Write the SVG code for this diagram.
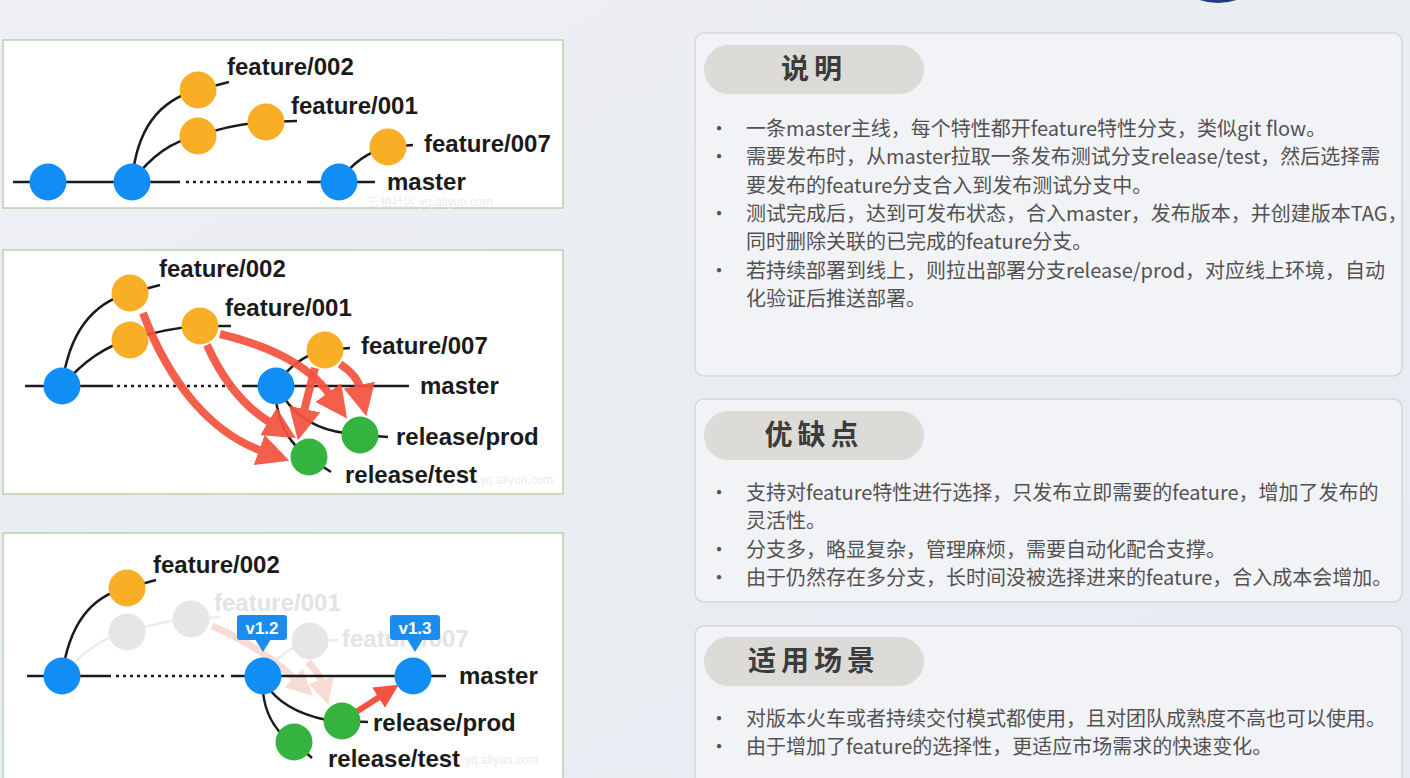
<svg xmlns="http://www.w3.org/2000/svg" width="1410" height="778" viewBox="0 0 1410 778">
<defs>
<linearGradient id="bg" x1="0" y1="0" x2="1" y2="1">
<stop offset="0" stop-color="#eef0f4"/>
<stop offset="1" stop-color="#e7eaf0"/>
</linearGradient>
<marker id="ah" markerUnits="userSpaceOnUse" markerWidth="32" markerHeight="32" refX="3" refY="16" orient="auto"><path d="M0,0 L32,16 L0,32 z" fill="#f4533f"/></marker>
<marker id="ah2" markerUnits="userSpaceOnUse" markerWidth="24" markerHeight="24" refX="3" refY="12" orient="auto"><path d="M0,0 L24,12 L0,24 z" fill="#f4533f"/></marker>
<marker id="ah3" markerUnits="userSpaceOnUse" markerWidth="26" markerHeight="26" refX="3" refY="13" orient="auto"><path d="M0,0 L26,13 L0,26 z" fill="#f9dbd5"/></marker>
<style>
.panel{fill:#ffffff;stroke:#a9c99a;stroke-width:1.2}
.blue{fill:#118ef5}
.orange{fill:#f8ae25}
.green{fill:#34b43f}
.gray{fill:#e6e6e6}
.ln{stroke:#1b1b1b;stroke-width:2.5;fill:none}
.fl{stroke:#ececec;stroke-width:2.5;fill:none}
.dot{stroke:#1b1b1b;stroke-width:2.5;fill:none;stroke-dasharray:3 4}
.lbl{font-family:"Liberation Sans",Arial,sans-serif;font-weight:bold;font-size:24px;fill:#1b1b1b}
.flbl{font-family:"Liberation Sans",Arial,sans-serif;font-weight:bold;font-size:24px;fill:#e3e3e3}
.ra{stroke:#f4533f;stroke-width:8;fill:none;marker-end:url(#ah);opacity:0.93}
.fa{stroke:#f9dbd5;stroke-width:7;fill:none;marker-end:url(#ah3)}
.tag{fill:#1a8cf0}
.tagt{font-family:"Liberation Sans",Arial,sans-serif;font-weight:bold;font-size:17px;fill:#ffffff}
.wm{font-family:"Liberation Sans",Arial,sans-serif;font-size:12px;fill:#ececec}
.box{fill:#f2f3f6;stroke:#d6d8dc;stroke-width:1.5}
.pill{fill:#dcdbd7}
.ttl{font-family:"Noto Sans CJK SC",sans-serif;font-weight:bold;font-size:28px;fill:#3c3c3c;letter-spacing:5px}
.tx{font-family:"Noto Sans CJK SC",sans-serif;font-size:20px;fill:#525252}
</style>
</defs>
<rect x="0" y="0" width="1410" height="778" fill="url(#bg)"/>
<circle cx="1218" cy="-55" r="58" fill="#1b3b82"/>

<!-- Panel 1 -->
<g id="panel1">
<rect class="panel" x="3" y="40" width="560" height="168"/>
<text class="wm" x="368" y="206">云栖社区 yq.aliyun.com</text>
<g id="p1-connectors">
<path class="ln" d="M13,182 L180,182"/>
<path class="dot" d="M186,182 L302,182"/>
<path class="ln" d="M307,182 L375,182"/>
<path class="ln" d="M132,182 Q 138,105 198,90"/>
<path class="ln" d="M132,182 Q 160,143 198,136"/>
<path class="ln" d="M198,136 Q 232,124 266,122"/>
<path class="ln" d="M339,182 Q 358,154 388,147"/>
<path class="ln" d="M198,90 L229,82"/>
<path class="ln" d="M266,122 L297,121"/>
<path class="ln" d="M388,147 L413,145"/>
</g>
<g id="p1-m1"><circle class="blue" cx="48" cy="182" r="18.5"/></g>
<g id="p1-m2"><circle class="blue" cx="132" cy="182" r="18.5"/></g>
<g id="p1-m3"><circle class="blue" cx="339" cy="182" r="18.5"/><text class="lbl" x="387" y="190">master</text></g>
<g id="p1-f002"><circle class="orange" cx="198" cy="90" r="18.5"/><text class="lbl" x="227" y="75">feature/002</text></g>
<g id="p1-f001a"><circle class="orange" cx="198" cy="136" r="18.5"/></g>
<g id="p1-f001b"><circle class="orange" cx="266" cy="122" r="18.5"/><text class="lbl" x="291" y="114">feature/001</text></g>
<g id="p1-f007"><circle class="orange" cx="388" cy="147" r="18.5"/><text class="lbl" x="424" y="152">feature/007</text></g>
</g>

<!-- Panel 2 -->
<g id="panel2">
<rect class="panel" x="3" y="250" width="560" height="244"/>
<text class="wm" x="480" y="484">yq.aliyun.com</text>
<g id="p2-connectors">
<path class="ln" d="M25,386 L113,386"/>
<path class="dot" d="M117,386 L236,386"/>
<path class="ln" d="M242,386 L409,386"/>
<path class="ln" d="M62,386 Q 72,308 130,293"/>
<path class="ln" d="M62,386 Q 95,348 130,340"/>
<path class="ln" d="M130,340 Q 165,328 200,326"/>
<path class="ln" d="M276,386 Q 294,357 325,350"/>
<path class="ln" d="M284,398 Q 305,428 345,433"/>
<path class="ln" d="M276,400 Q 280,432 300,450"/>
<path class="ln" d="M130,293 L160,285"/>
<path class="ln" d="M200,326 L231,326"/>
<path class="ln" d="M325,350 L350,348"/>
<path class="ln" d="M360,435 L388,437"/>
<path class="ln" d="M308,457 L331,472"/>
</g>
<g id="p2-m1"><circle class="blue" cx="62" cy="386" r="18.5"/></g>
<g id="p2-m2"><circle class="blue" cx="276" cy="386" r="18.5"/><text class="lbl" x="420" y="394">master</text></g>
<g id="p2-f002"><circle class="orange" cx="130" cy="293" r="18.5"/><text class="lbl" x="159" y="277">feature/002</text></g>
<g id="p2-f001a"><circle class="orange" cx="130" cy="340" r="18.5"/></g>
<g id="p2-f001b"><circle class="orange" cx="200" cy="326" r="18.5"/><text class="lbl" x="225" y="316">feature/001</text></g>
<g id="p2-f007"><circle class="orange" cx="325" cy="350" r="18.5"/><text class="lbl" x="361" y="354">feature/007</text></g>
<g id="p2-prod"><circle class="green" cx="360" cy="435" r="18.5"/><text class="lbl" x="396" y="445">release/prod</text></g>
<g id="p2-test"><circle class="green" cx="309" cy="457" r="18.5"/><text class="lbl" x="345" y="483">release/test</text></g>
<g id="p2-arrows">
<path class="ra" d="M143,313 C 170,385 212,433 262,451"/>
<path class="ra" d="M207,345 C 225,385 246,408 271,423"/>
<path class="ra" d="M220,334 C 265,345 306,362 330,395"/>
<path class="ra" d="M315,368 C 311,383 307,398 304,412"/>
<path class="ra" d="M340,364 C 352,372 358,379 360,388"/>
</g>
</g>

<!-- Panel 3 -->
<g id="panel3">
<rect class="panel" x="3" y="533" width="560" height="250"/>
<text class="wm" x="465" y="764">yq.aliyun.com</text>
<g id="p3-faded">
<path class="fl" d="M62,676 Q 95,638 127,632"/>
<path class="fl" d="M127,632 Q 160,621 191,619"/>
<path class="fl" d="M191,619 L220,617"/>
<path class="fl" d="M263,676 Q 283,648 310,641"/>
<path class="fl" d="M310,641 L338,640"/>
<path class="fa" d="M212,626 C 245,640 275,660 296,680"/>
<path class="fa" d="M308,662 C 316,670 320,676 322,683"/>
<g id="p3-f001a"><circle class="gray" cx="127" cy="632" r="18.5"/></g>
<g id="p3-f001b"><circle class="gray" cx="191" cy="619" r="18.5"/><text class="flbl" x="214" y="611">feature/001</text></g>
<g id="p3-f007"><circle class="gray" cx="310" cy="641" r="18.5"/><text class="flbl" x="342" y="647">feature/007</text></g>
</g>
<g id="p3-connectors">
<path class="ln" d="M27,676 L111,676"/>
<path class="dot" d="M116,676 L225,676"/>
<path class="ln" d="M231,676 L446,676"/>
<path class="ln" d="M62,676 Q 72,600 127,588"/>
<path class="ln" d="M127,588 L156,580"/>
<path class="ln" d="M270,690 Q 290,715 338,722"/>
<path class="ln" d="M263,692 Q 266,722 288,740"/>
<path class="ln" d="M342,721 L368,722"/>
<path class="ln" d="M294,742 L312,758"/>
<path d="M356,712 L381,696" stroke="#f4533f" stroke-width="6" fill="none" marker-end="url(#ah2)"/>
</g>
<g id="p3-m1"><circle class="blue" cx="62" cy="676" r="18.5"/></g>
<g id="p3-m2"><circle class="blue" cx="263" cy="676" r="18.5"/></g>
<g id="p3-m3"><circle class="blue" cx="413" cy="676" r="18.5"/><text class="lbl" x="459" y="684">master</text></g>
<g id="p3-f002"><circle class="orange" cx="127" cy="588" r="18.5"/><text class="lbl" x="153" y="573">feature/002</text></g>
<g id="p3-prod"><circle class="green" cx="342" cy="721" r="18.5"/><text class="lbl" x="373" y="731">release/prod</text></g>
<g id="p3-test"><circle class="green" cx="294" cy="742" r="18.5"/><text class="lbl" x="328" y="767">release/test</text></g>
<g id="tag-v12"><rect class="tag" x="237" y="615" width="50" height="25" rx="3"/><path class="tag" d="M255,639 L263,652 L271,639 z"/><text class="tagt" x="262" y="634" text-anchor="middle">v1.2</text></g>
<g id="tag-v13"><rect class="tag" x="390" y="615" width="50" height="25" rx="3"/><path class="tag" d="M407,639 L415,652 L423,639 z"/><text class="tagt" x="415" y="634" text-anchor="middle">v1.3</text></g>
</g>

<!-- Right boxes -->
<g id="box-desc">
<rect class="box" x="695" y="33" width="707" height="343" rx="9"/>
<rect class="pill" x="704" y="45" width="220" height="49" rx="24.5"/>
<text class="ttl" x="814" y="79" text-anchor="middle">说明</text>
<g class="tx">
<text x="709" y="136">•</text><text x="746" y="136">一条master主线，每个特性都开feature特性分支，类似git flow。</text>
<text x="709" y="164">•</text><text x="746" y="164">需要发布时，从master拉取一条发布测试分支release/test，然后选择需</text>
<text x="746" y="193">要发布的feature分支合入到发布测试分支中。</text>
<text x="709" y="221">•</text><text x="746" y="221">测试完成后，达到可发布状态，合入master，发布版本，并创建版本TAG，</text>
<text x="746" y="249">同时删除关联的已完成的feature分支。</text>
<text x="709" y="278">•</text><text x="746" y="278">若持续部署到线上，则拉出部署分支release/prod，对应线上环境，自动</text>
<text x="746" y="306">化验证后推送部署。</text>
</g>
</g>
<g id="box-pros">
<rect class="box" x="695" y="399" width="707" height="203" rx="9"/>
<rect class="pill" x="704" y="411" width="220" height="49" rx="24.5"/>
<text class="ttl" x="814" y="445" text-anchor="middle">优缺点</text>
<g class="tx">
<text x="709" y="500">•</text><text x="746" y="500">支持对feature特性进行选择，只发布立即需要的feature，增加了发布的</text>
<text x="746" y="528">灵活性。</text>
<text x="709" y="557">•</text><text x="746" y="557">分支多，略显复杂，管理麻烦，需要自动化配合支撑。</text>
<text x="709" y="585">•</text><text x="746" y="585">由于仍然存在多分支，长时间没被选择进来的feature，合入成本会增加。</text>
</g>
</g>
<g id="box-scene">
<rect class="box" x="695" y="626" width="707" height="170" rx="9"/>
<rect class="pill" x="704" y="637" width="220" height="49" rx="24.5"/>
<text class="ttl" x="814" y="671" text-anchor="middle">适用场景</text>
<g class="tx">
<text x="709" y="726">•</text><text x="746" y="726">对版本火车或者持续交付模式都使用，且对团队成熟度不高也可以使用。</text>
<text x="709" y="754">•</text><text x="746" y="754">由于增加了feature的选择性，更适应市场需求的快速变化。</text>
</g>
</g>
</svg>
